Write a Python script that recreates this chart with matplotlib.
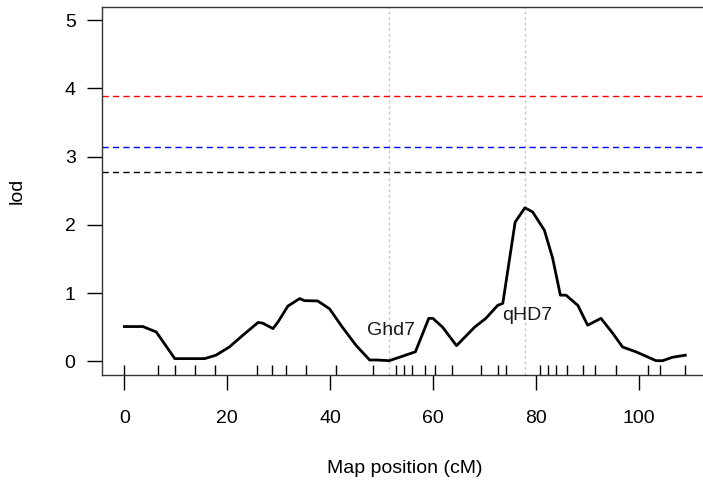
import matplotlib.pyplot as plt
import numpy as np

plt.rcParams['font.family'] = ['Liberation Sans', 'DejaVu Sans']

# LOD profile (cM, lod)
pos = [0, 3.6, 6.2, 9.8, 15.6, 17.8, 20.4, 23.0, 26.0, 26.9, 28.9, 29.9, 31.8,
       34.1, 35.0, 37.6, 39.9, 42.4, 45.1, 47.7, 49.0, 51.5, 53.5, 56.6, 59.2,
       60.0, 61.9, 64.6, 68.1, 70.3, 72.6, 73.6, 76.0, 77.9, 79.4, 81.7, 83.3,
       84.8, 85.9, 88.2, 90.1, 92.7, 95.0, 96.9, 99.5, 103.4, 104.7, 106.6, 109.1]
lod = [0.51, 0.51, 0.43, 0.04, 0.04, 0.09, 0.21, 0.38, 0.57, 0.56, 0.48, 0.58, 0.81,
       0.92, 0.89, 0.885, 0.77, 0.50, 0.23, 0.02, 0.02, 0.01, 0.06, 0.14, 0.63,
       0.63, 0.50, 0.23, 0.50, 0.63, 0.82, 0.85, 2.04, 2.25, 2.19, 1.92, 1.51,
       0.97, 0.97, 0.82, 0.53, 0.63, 0.41, 0.21, 0.14, 0.01, 0.01, 0.06, 0.09]

# marker positions (rug)
markers = [0, 6.6, 9.9, 13.8, 17.6, 25.7, 28.7, 31.5, 35.4, 41.2, 48.3, 52.9,
           54.4, 55.9, 58.5, 60.5, 63.8, 69.4, 72.7, 74.3, 80.8, 82.3, 83.9,
           86.1, 89.2, 91.5, 95.6, 101.8, 104.2, 109.1]

# significance thresholds
thr_vals = [3.89, 3.14, 2.77]
thr_cols = ['red', 'blue', 'black']

# known genes
genes = ['Ghd7', 'qHD7']
gene_pos = [51.4, 77.9]
gene_lab_y = [0.45, 0.67]

fs = 14

fig = plt.figure(figsize=(7.03, 4.83), dpi=100)
ax = fig.add_axes([0.1451, 0.2236, 1.007 - 0.1451, 0.9865 - 0.2236])

# lineas verticales de los genes
for g, x in zip(genes, gene_pos):
    ax.axvline(x, color='#c8c8c8', lw=1, ls=(0, (2, 2)), zorder=1)

# umbrales
for v, c in zip(thr_vals, thr_cols):
    ax.axhline(v, color=c, lw=1, ls=(0, (4.5, 3)), zorder=2)

ax.plot(pos, lod, color='black', lw=2.0, zorder=3)

for g, x, y in zip(genes, gene_pos, gene_lab_y):
    ax.text(x + 0.4, y, g, ha='center', va='center', fontsize=fs, color='#1a1a1a')

ax.vlines(markers, 0, 0.028, transform=ax.get_xaxis_transform(),
          color='black', lw=1)

ax.set_xlim(-4.36, 113.5)
ax.set_ylim(-0.2, 5.2)
ax.set_xticks([0, 20, 40, 60, 80, 100])
ax.set_yticks([0, 1, 2, 3, 4, 5])
ax.tick_params(axis='x', direction='out', length=11, width=1, pad=14, labelsize=fs)
ax.tick_params(axis='y', direction='out', length=11, width=1, pad=8, labelsize=fs)
for s in ax.spines.values():
    s.set_linewidth(1)
    s.set_color('#333333')

ax.set_xlabel('Map position (cM)', fontsize=fs, labelpad=24)
ax.set_ylabel('lod', fontsize=fs, labelpad=28)

fig.savefig('out.png', dpi=100)
